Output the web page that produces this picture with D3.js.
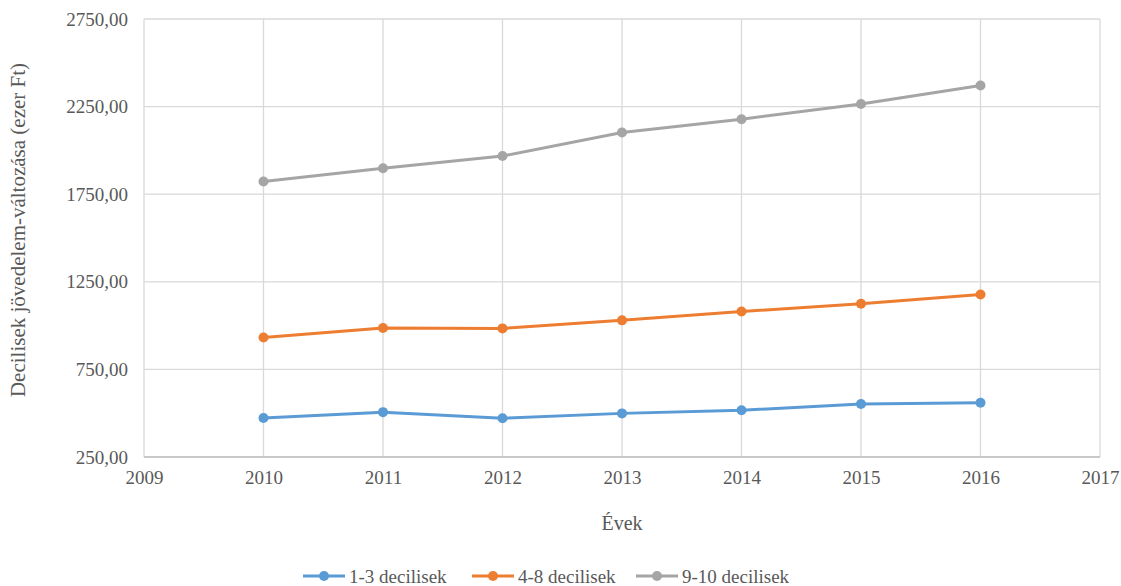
<!DOCTYPE html>
<html>
<head>
<meta charset="utf-8">
<script src="https://cdn.jsdelivr.net/npm/d3@7"></script>
<style>
  html, body { margin: 0; padding: 0; background: #fff; }
  svg { display: block; }
  text { font-family: "Liberation Serif", "Times New Roman", serif; fill: #595959; }
</style>
</head>
<body>
<svg id="chart" width="1121" height="586"></svg>
<script>
const years = [2010, 2011, 2012, 2013, 2014, 2015, 2016];
const seriesNames = ["1-3 decilisek", "4-8 decilisek", "9-10 decilisek"];
const seriesColors = ["#5B9BD5", "#ED7D31", "#A5A5A5"];
const values13 = [473, 506, 471, 499, 517, 553, 560];
const values48 = [932, 986, 984, 1030, 1080, 1125, 1178];
const values910 = [1822, 1898, 1968, 2102, 2178, 2265, 2370];
const yTicks = [250, 750, 1250, 1750, 2250, 2750];
const xTicks = [2009, 2010, 2011, 2012, 2013, 2014, 2015, 2016, 2017];
const yTitle = "Decilisek jövedelem-változása (ezer Ft)";
const xTitle = "Évek";

(function () {
const allSeries = [values13, values48, values910];

const svg = d3.select("#chart");
const pL = 144, pR = 1100, pT = 19, pB = 457;

const x = d3.scaleLinear().domain([2009, 2017]).range([pL, pR]);
const y = d3.scaleLinear().domain([250, 2750]).range([pB, pT]);

const loc = d3.formatLocale({decimal: ",", thousands: "", grouping: [3], currency: ["", ""]});
const fmt = loc.format(".2f");

// gridlines
const grid = svg.append("g");
grid.selectAll("line.h").data(yTicks).join("line").attr("class", "h")
  .attr("x1", pL).attr("x2", pR)
  .attr("y1", d => y(d)).attr("y2", d => y(d))
  .attr("stroke", "#D9D9D9").attr("stroke-width", 1.3);
grid.selectAll("line.v").data(xTicks).join("line").attr("class", "v")
  .attr("y1", pT).attr("y2", pB)
  .attr("x1", d => x(d)).attr("x2", d => x(d))
  .attr("stroke", "#D9D9D9").attr("stroke-width", 1.3);
// bottom axis line
svg.append("line").attr("x1", pL).attr("x2", pR)
  .attr("y1", pB).attr("y2", pB)
  .attr("stroke", "#BFBFBF").attr("stroke-width", 1.3);

// axes with D3 axis generators
const yAxis = svg.append("g").attr("transform", `translate(${pL},0)`)
  .call(d3.axisLeft(y).tickValues(yTicks).tickFormat(fmt).tickSize(0).tickPadding(16));
yAxis.select(".domain").remove();
yAxis.selectAll("text").style("font-size", "19px").attr("fill", "#595959")
  .attr("font-family", "Liberation Serif");

const xAxis = svg.append("g").attr("transform", `translate(0,${pB})`)
  .call(d3.axisBottom(x).tickValues(xTicks).tickFormat(d3.format("d")).tickSize(0).tickPadding(14));
xAxis.select(".domain").remove();
xAxis.selectAll("text").style("font-size", "19px").attr("fill", "#595959")
  .attr("font-family", "Liberation Serif");

// titles
svg.append("text")
  .attr("transform", `translate(25,230) rotate(-90)`)
  .attr("text-anchor", "middle")
  .style("font-size", "21px")
  .text(yTitle);
svg.append("text")
  .attr("x", (pL + pR) / 2).attr("y", 530)
  .attr("text-anchor", "middle")
  .style("font-size", "20px")
  .text(xTitle);

// lines
const line = d3.line().x((d, i) => x(years[i])).y(d => y(d));
allSeries.forEach((vals, s) => {
  const g = svg.append("g");
  g.append("path").datum(vals)
    .attr("d", line)
    .attr("fill", "none")
    .attr("stroke", seriesColors[s])
    .attr("stroke-width", 3)
    .attr("stroke-linejoin", "round");
  g.selectAll("circle").data(vals).join("circle")
    .attr("cx", (d, i) => x(years[i]))
    .attr("cy", d => y(d))
    .attr("r", 5)
    .attr("fill", seriesColors[s]);
});

// legend
const legendX = [303, 472, 636];
const legendY = 576;
seriesNames.forEach((name, i) => {
  const g = svg.append("g").attr("transform", `translate(${legendX[i]},${legendY})`);
  g.append("line").attr("x1", 0).attr("x2", 42).attr("y1", 0).attr("y2", 0)
    .attr("stroke", seriesColors[i]).attr("stroke-width", 3);
  g.append("circle").attr("cx", 21).attr("cy", 0).attr("r", 5).attr("fill", seriesColors[i]);
  g.append("text").attr("x", 46).attr("y", 0).attr("dy", "0.35em")
    .style("font-size", "19px").text(name);
});
})();
</script>
</body>
</html>
